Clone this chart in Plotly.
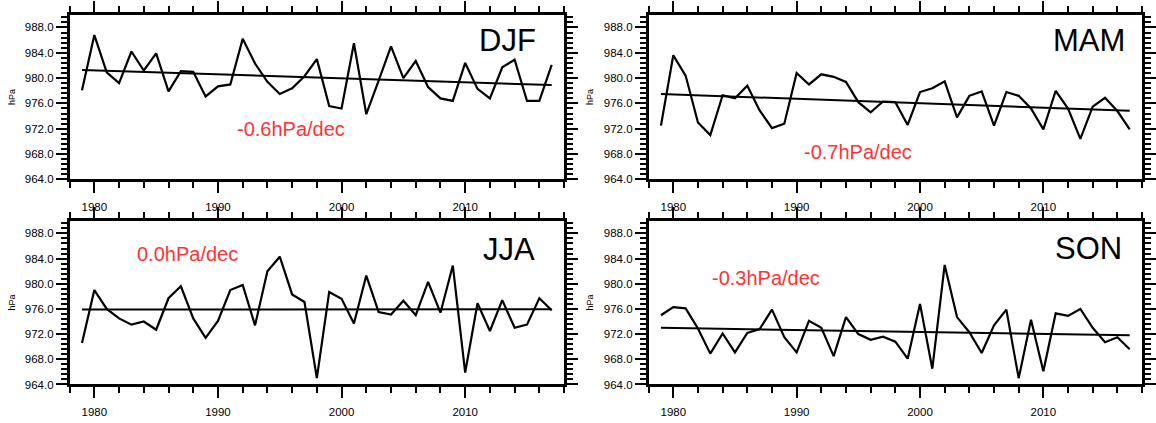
import plotly.graph_objects as go

years = list(range(1979, 2018))

djf = [978.1, 986.8, 980.9, 979.2, 984.2, 981.2, 983.9, 977.9, 981.1, 981.0,
       977.1, 978.7, 979.0, 986.2, 982.3, 979.4, 977.5, 978.4, 980.3, 983.0,
       975.6, 975.2, 985.5, 974.3, 979.6, 985.0, 980.0, 982.7, 978.6, 976.8,
       976.4, 982.4, 978.3, 976.8, 981.7, 982.9, 976.4, 976.4, 982.1]
mam = [972.5, 983.6, 980.4, 973.0, 971.0, 977.3, 976.8, 978.8, 974.9, 972.1,
       972.8, 980.8, 979.0, 980.6, 980.2, 979.4, 976.2, 974.6, 976.3, 976.2,
       972.6, 977.8, 978.4, 979.5, 973.8, 977.2, 977.9, 972.5, 977.8, 977.2,
       975.2, 971.9, 978.0, 975.2, 970.4, 975.5, 976.9, 974.8, 971.9]
jja = [970.6, 979.0, 976.0, 974.5, 973.5, 974.0, 972.7, 977.7, 979.6, 974.5,
       971.4, 974.1, 979.0, 979.8, 973.4, 982.0, 984.3, 978.3, 977.1, 965.0,
       978.7, 977.6, 973.7, 981.3, 975.5, 975.1, 977.3, 975.0, 980.3, 975.4,
       982.9, 965.9, 976.9, 972.5, 977.4, 973.0, 973.5, 977.7, 975.8]
son = [975.0, 976.3, 976.1, 972.9, 968.9, 972.1, 969.1, 972.2, 972.8, 975.9,
       971.5, 969.1, 974.1, 973.0, 968.5, 974.7, 972.0, 971.1, 971.6, 970.8,
       968.1, 976.8, 966.5, 983.0, 974.7, 972.3, 969.0, 973.4, 975.9, 965.0,
       974.3, 966.1, 975.3, 974.9, 976.0, 973.0, 970.7, 971.5, 969.6]

trend_years = [1979, 2017]
trend_djf = [981.3, 978.9]
trend_mam = [977.5, 974.85]
trend_jja = [975.9, 975.95]
trend_son = [973.0, 971.8]

seasons = ["DJF", "MAM", "JJA", "SON"]
trend_labels = ["-0.6hPa/dec", "-0.7hPa/dec", "0.0hPa/dec", "-0.3hPa/dec"]

W, H = 1156, 423
FONT = "Liberation Sans, Arial, Helvetica, sans-serif"

# panel pixel boxes: (left, right, top, bottom)
boxes = [(70, 567, 15, 182), (652, 1148, 15, 182),
         (70, 567, 224, 390), (652, 1148, 224, 390)]

series = [djf, mam, jja, son]
trends = [trend_djf, trend_mam, trend_jja, trend_son]

fig = go.Figure()
layout = dict(width=W, height=H, margin=dict(l=0, r=0, t=0, b=0), autosize=False,
              paper_bgcolor="white", plot_bgcolor="white", showlegend=False,
              font=dict(family=FONT, color="black"))
annotations = []

# season label positions (right edge x, center y), trend text (left x, center y)
season_pos = [(541, 41), (1133, 41), (540, 253), (1130, 252)]
trend_pos = [(236, 131), (806, 154), (136, 258), (714, 282)]
hpa_x = [12, 593]

for i, (vals, tr, box) in enumerate(zip(series, trends, boxes)):
    n = "" if i == 0 else str(i + 1)
    xa, ya = "x" + n, "y" + n
    fig.add_trace(go.Scatter(x=years, y=vals, mode="lines", xaxis=xa, yaxis=ya,
                             line=dict(color="black", width=2.2)))
    fig.add_trace(go.Scatter(x=trend_years, y=tr, mode="lines", xaxis=xa, yaxis=ya,
                             line=dict(color="black", width=2.0)))
    l, r, t, b = box
    layout["xaxis" + n] = dict(
        domain=[l / W, r / W], anchor=ya, range=[1978, 2018],
        tick0=1980, dtick=10, ticks="outside", ticklen=11, tickwidth=2,
        tickcolor="black", showline=True, linewidth=2.5, linecolor="black",
        mirror="ticks", showgrid=False, zeroline=False, ticklabelstandoff=4,
        tickfont=dict(family=FONT, size=11.5, color="black"),
        minor=dict(tick0=1978, dtick=2, ticks="outside", ticklen=6,
                   tickwidth=1.5, tickcolor="black", showgrid=False))
    layout["yaxis" + n] = dict(
        domain=[1 - b / H, 1 - t / H], anchor=xa, range=[964, 990],
        tick0=964, dtick=4, tickformat=".1f", ticks="outside", ticklen=11,
        tickwidth=2, tickcolor="black", showline=True, linewidth=2.5,
        linecolor="black", mirror="ticks", showgrid=False, zeroline=False,
        tickfont=dict(family=FONT, size=11.5, color="black"),
        minor=dict(tick0=964, dtick=0.8, ticks="outside", ticklen=6,
                   tickwidth=1.5, tickcolor="black", showgrid=False))
    sx, sy = season_pos[i]
    annotations.append(dict(xref="paper", yref="paper", x=sx / W, y=1 - sy / H,
                            text=seasons[i], showarrow=False, xanchor="right",
                            yanchor="middle",
                            font=dict(family=FONT, size=31, color="black")))
    tx, ty = trend_pos[i]
    annotations.append(dict(xref="paper", yref="paper", x=tx / W, y=1 - ty / H,
                            text=trend_labels[i], showarrow=False, xanchor="left",
                            yanchor="middle",
                            font=dict(family=FONT, size=20, color="#ff3333")))
    annotations.append(dict(xref="paper", yref="paper", x=hpa_x[i % 2] / W,
                            y=1 - ((t + b) / 2) / H, text="hPa", showarrow=False,
                            textangle=-90, xanchor="center", yanchor="middle",
                            font=dict(family=FONT, size=9, color="black")))

layout["annotations"] = annotations
fig.update_layout(**layout)
fig.write_html("out.html")
